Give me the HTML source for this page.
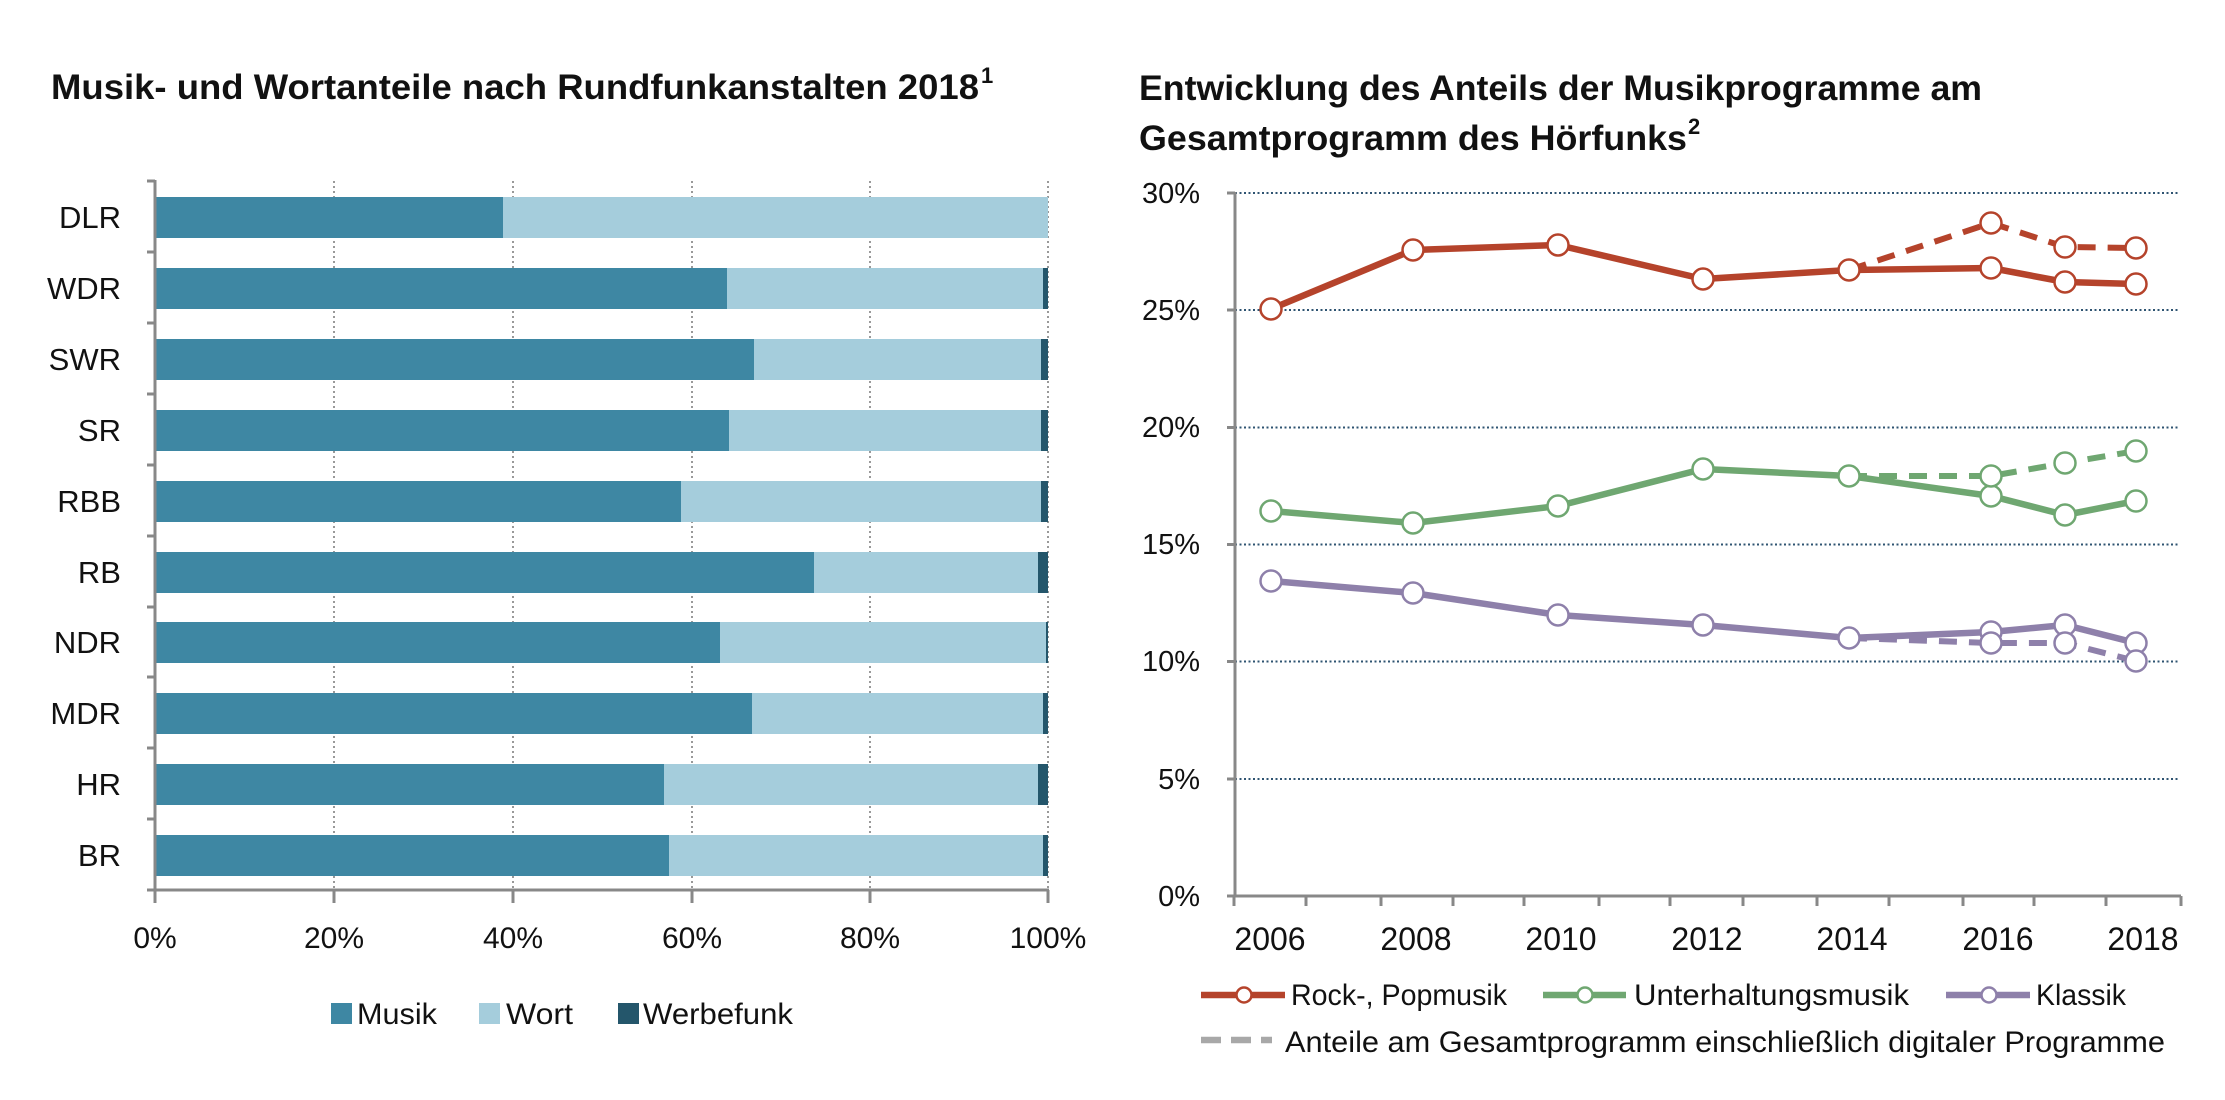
<!DOCTYPE html>
<html><head><meta charset="utf-8"><style>
html,body{margin:0;padding:0;background:#fff;}
svg{display:block;font-family:"Liberation Sans","DejaVu Sans",sans-serif;}
</style></head><body>
<svg width="2225" height="1100" viewBox="0 0 2225 1100" xmlns="http://www.w3.org/2000/svg">
<rect width="2225" height="1100" fill="#fff"/>
<text x="51" y="99" font-size="35" font-weight="bold" fill="#111" textLength="928" lengthAdjust="spacingAndGlyphs">Musik- und Wortanteile nach Rundfunkanstalten 2018</text>
<text x="981" y="83" font-size="22" font-weight="bold" fill="#111">1</text>

<g stroke="#999" stroke-width="2" stroke-dasharray="2,3">
<line x1="334" y1="181" x2="334" y2="890"/>
<line x1="513" y1="181" x2="513" y2="890"/>
<line x1="692" y1="181" x2="692" y2="890"/>
<line x1="870" y1="181" x2="870" y2="890"/>
<line x1="1048" y1="181" x2="1048" y2="890"/>
</g>
<g>
<rect x="155" y="197" width="348" height="41" fill="#3E87A3"/><rect x="503" y="197" width="545" height="41" fill="#A5CDDC"/>
<rect x="155" y="268" width="572" height="41" fill="#3E87A3"/><rect x="727" y="268" width="316" height="41" fill="#A5CDDC"/><rect x="1043" y="268" width="5" height="41" fill="#24566B"/>
<rect x="155" y="339" width="599" height="41" fill="#3E87A3"/><rect x="754" y="339" width="287" height="41" fill="#A5CDDC"/><rect x="1041" y="339" width="7" height="41" fill="#24566B"/>
<rect x="155" y="410" width="574" height="41" fill="#3E87A3"/><rect x="729" y="410" width="312" height="41" fill="#A5CDDC"/><rect x="1041" y="410" width="7" height="41" fill="#24566B"/>
<rect x="155" y="481" width="526" height="41" fill="#3E87A3"/><rect x="681" y="481" width="360" height="41" fill="#A5CDDC"/><rect x="1041" y="481" width="7" height="41" fill="#24566B"/>
<rect x="155" y="552" width="659" height="41" fill="#3E87A3"/><rect x="814" y="552" width="224" height="41" fill="#A5CDDC"/><rect x="1038" y="552" width="10" height="41" fill="#24566B"/>
<rect x="155" y="622" width="565" height="41" fill="#3E87A3"/><rect x="720" y="622" width="326" height="41" fill="#A5CDDC"/><rect x="1046" y="622" width="2" height="41" fill="#24566B"/>
<rect x="155" y="693" width="597" height="41" fill="#3E87A3"/><rect x="752" y="693" width="291" height="41" fill="#A5CDDC"/><rect x="1043" y="693" width="5" height="41" fill="#24566B"/>
<rect x="155" y="764" width="509" height="41" fill="#3E87A3"/><rect x="664" y="764" width="374" height="41" fill="#A5CDDC"/><rect x="1038" y="764" width="10" height="41" fill="#24566B"/>
<rect x="155" y="835" width="514" height="41" fill="#3E87A3"/><rect x="669" y="835" width="374" height="41" fill="#A5CDDC"/><rect x="1043" y="835" width="5" height="41" fill="#24566B"/>
</g>
<g stroke="#888" stroke-width="3" fill="none">
<line x1="155" y1="180" x2="155" y2="892"/>
<line x1="154" y1="890" x2="1049" y2="890"/>
<line x1="147" y1="181" x2="155" y2="181"/><line x1="147" y1="252" x2="155" y2="252"/><line x1="147" y1="323" x2="155" y2="323"/><line x1="147" y1="394" x2="155" y2="394"/><line x1="147" y1="465" x2="155" y2="465"/><line x1="147" y1="536" x2="155" y2="536"/><line x1="147" y1="607" x2="155" y2="607"/><line x1="147" y1="677" x2="155" y2="677"/><line x1="147" y1="748" x2="155" y2="748"/><line x1="147" y1="819" x2="155" y2="819"/><line x1="147" y1="890" x2="155" y2="890"/>
<line x1="155" y1="890" x2="155" y2="903"/><line x1="334" y1="890" x2="334" y2="903"/><line x1="513" y1="890" x2="513" y2="903"/><line x1="692" y1="890" x2="692" y2="903"/><line x1="870" y1="890" x2="870" y2="903"/><line x1="1048" y1="890" x2="1048" y2="903"/>
</g>
<g font-size="31" fill="#111" text-anchor="end">
<text x="121" y="228">DLR</text><text x="121" y="299">WDR</text><text x="121" y="370">SWR</text><text x="121" y="441">SR</text><text x="121" y="512">RBB</text><text x="121" y="583">RB</text><text x="121" y="653">NDR</text><text x="121" y="724">MDR</text><text x="121" y="795">HR</text><text x="121" y="866">BR</text>
</g>
<g font-size="30" fill="#111" text-anchor="middle">
<text x="155" y="948">0%</text><text x="334" y="948">20%</text><text x="513" y="948">40%</text><text x="692" y="948">60%</text><text x="870" y="948">80%</text><text x="1048" y="948">100%</text>
</g>
<rect x="331" y="1003" width="21" height="21" fill="#3E87A3"/>
<text x="357" y="1024" font-size="30" fill="#111" textLength="80" lengthAdjust="spacingAndGlyphs">Musik</text>
<rect x="479" y="1003" width="21" height="21" fill="#A5CDDC"/>
<text x="506" y="1024" font-size="30" fill="#111" textLength="67" lengthAdjust="spacingAndGlyphs">Wort</text>
<rect x="618" y="1003" width="21" height="21" fill="#24566B"/>
<text x="643" y="1024" font-size="30" fill="#111" textLength="150" lengthAdjust="spacingAndGlyphs">Werbefunk</text>

<text x="1139" y="100" font-size="35" font-weight="bold" fill="#111" textLength="843" lengthAdjust="spacingAndGlyphs">Entwicklung des Anteils der Musikprogramme am</text>
<text x="1139" y="150" font-size="35" font-weight="bold" fill="#111" textLength="548" lengthAdjust="spacingAndGlyphs">Gesamtprogramm des Hörfunks</text>
<text x="1688" y="134" font-size="22" font-weight="bold" fill="#111">2</text>

<g stroke="#2F5472" stroke-width="2" stroke-dasharray="2,2.5">
<line x1="1235" y1="193" x2="2178" y2="193"/>
<line x1="1235" y1="310" x2="2178" y2="310"/>
<line x1="1235" y1="427.5" x2="2178" y2="427.5"/>
<line x1="1235" y1="544.5" x2="2178" y2="544.5"/>
<line x1="1235" y1="661.5" x2="2178" y2="661.5"/>
<line x1="1235" y1="779" x2="2178" y2="779"/>
</g>
<g stroke="#888" stroke-width="3" fill="none">
<line x1="1235" y1="192" x2="1235" y2="897"/>
<line x1="1227" y1="193" x2="1235" y2="193"/><line x1="1227" y1="310" x2="1235" y2="310"/><line x1="1227" y1="427.5" x2="1235" y2="427.5"/><line x1="1227" y1="544.5" x2="1235" y2="544.5"/><line x1="1227" y1="661.5" x2="1235" y2="661.5"/><line x1="1227" y1="779" x2="1235" y2="779"/><line x1="1227" y1="896" x2="1235" y2="896"/>
<line x1="1234" y1="896" x2="2181" y2="896"/>
<line x1="1234" y1="896" x2="1234" y2="906"/><line x1="1306" y1="896" x2="1306" y2="906"/><line x1="1381" y1="896" x2="1381" y2="906"/><line x1="1453" y1="896" x2="1453" y2="906"/><line x1="1524" y1="896" x2="1524" y2="906"/><line x1="1599" y1="896" x2="1599" y2="906"/><line x1="1670" y1="896" x2="1670" y2="906"/><line x1="1743" y1="896" x2="1743" y2="906"/><line x1="1817" y1="896" x2="1817" y2="906"/><line x1="1889" y1="896" x2="1889" y2="906"/><line x1="1963" y1="896" x2="1963" y2="906"/><line x1="2034" y1="896" x2="2034" y2="906"/><line x1="2106" y1="896" x2="2106" y2="906"/><line x1="2181" y1="896" x2="2181" y2="906"/>
</g>
<g font-size="29" fill="#111" text-anchor="end">
<text x="1200" y="203">30%</text><text x="1200" y="320">25%</text><text x="1200" y="437">20%</text><text x="1200" y="554">15%</text><text x="1200" y="671">10%</text><text x="1200" y="789">5%</text><text x="1200" y="906">0%</text>
</g>
<g font-size="32" fill="#111" text-anchor="middle">
<text x="1270" y="950">2006</text><text x="1416" y="950">2008</text><text x="1561" y="950">2010</text><text x="1707" y="950">2012</text><text x="1852" y="950">2014</text><text x="1998" y="950">2016</text><text x="2143" y="950">2018</text>
</g>

<g fill="none" stroke-width="6" stroke-dasharray="18,12">
<polyline stroke="#B5432B" points="1849,270 1991,223 2065,247 2136,248"/>
<polyline stroke="#6FA771" points="1849,476 1991,476 2065,463 2136,451"/>
<polyline stroke="#8E80AA" points="1849,638 1991,643 2065,643 2136,661"/>
</g>
<g fill="none" stroke-width="6.5" stroke-linejoin="round">
<polyline stroke="#B5432B" points="1271,309 1413,250 1558,245 1703,279 1849,270 1991,268 2065,282 2136,284"/>
<polyline stroke="#6FA771" points="1271,511 1413,523 1558,506 1703,469 1849,476 1991,496 2065,515 2136,501"/>
<polyline stroke="#8E80AA" points="1271,581 1413,593 1558,615 1703,625 1849,638 1991,632 2065,625 2136,643"/>
</g>
<g fill="#fff" stroke-width="2.5">
<g stroke="#B5432B">
<circle cx="1991" cy="223" r="10.5"/><circle cx="2065" cy="247" r="10.5"/><circle cx="2136" cy="248" r="10.5"/>
<circle cx="1271" cy="309" r="10.5"/><circle cx="1413" cy="250" r="10.5"/><circle cx="1558" cy="245" r="10.5"/><circle cx="1703" cy="279" r="10.5"/><circle cx="1849" cy="270" r="10.5"/><circle cx="1991" cy="268" r="10.5"/><circle cx="2065" cy="282" r="10.5"/><circle cx="2136" cy="284" r="10.5"/>
</g>
<g stroke="#6FA771">
<circle cx="1991" cy="496" r="10.5"/><circle cx="2065" cy="463" r="10.5"/><circle cx="2136" cy="451" r="10.5"/>
<circle cx="1271" cy="511" r="10.5"/><circle cx="1413" cy="523" r="10.5"/><circle cx="1558" cy="506" r="10.5"/><circle cx="1703" cy="469" r="10.5"/><circle cx="1849" cy="476" r="10.5"/><circle cx="1991" cy="476" r="10.5"/><circle cx="2065" cy="515" r="10.5"/><circle cx="2136" cy="501" r="10.5"/>
</g>
<g stroke="#8E80AA">
<circle cx="1991" cy="632" r="10.5"/><circle cx="2065" cy="625" r="10.5"/><circle cx="2136" cy="643" r="10.5"/>
<circle cx="1271" cy="581" r="10.5"/><circle cx="1413" cy="593" r="10.5"/><circle cx="1558" cy="615" r="10.5"/><circle cx="1703" cy="625" r="10.5"/><circle cx="1849" cy="638" r="10.5"/><circle cx="1991" cy="643" r="10.5"/><circle cx="2065" cy="643" r="10.5"/><circle cx="2136" cy="661" r="10.5"/>
</g>
</g>

<g stroke-width="6.5">
<line x1="1201" y1="995" x2="1285" y2="995" stroke="#B5432B"/>
<line x1="1543" y1="995" x2="1626" y2="995" stroke="#6FA771"/>
<line x1="1946" y1="995" x2="2030" y2="995" stroke="#8E80AA"/>
<line x1="1201" y1="1040" x2="1272" y2="1040" stroke="#A8A8A8" stroke-dasharray="20,10"/>
</g>
<g fill="#fff" stroke-width="2.5">
<circle cx="1244" cy="995" r="7.5" stroke="#B5432B"/>
<circle cx="1585" cy="995" r="7.5" stroke="#6FA771"/>
<circle cx="1989" cy="995" r="7.5" stroke="#8E80AA"/>
</g>
<g font-size="30" fill="#111">
<text x="1291" y="1005" textLength="216" lengthAdjust="spacingAndGlyphs">Rock-, Popmusik</text>
<text x="1634" y="1005" textLength="275" lengthAdjust="spacingAndGlyphs">Unterhaltungsmusik</text>
<text x="2036" y="1005" textLength="90" lengthAdjust="spacingAndGlyphs">Klassik</text>
<text x="1285" y="1052" textLength="880" lengthAdjust="spacingAndGlyphs">Anteile am Gesamtprogramm einschließlich digitaler Programme</text>
</g>
</svg>
</body></html>
